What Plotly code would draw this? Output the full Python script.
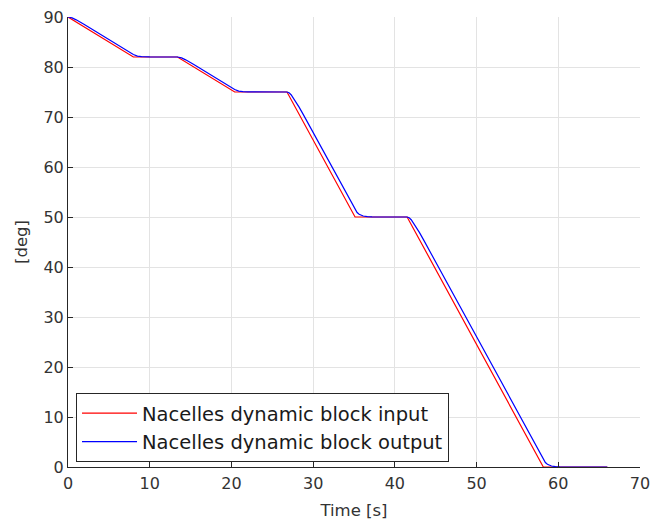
import plotly.graph_objects as go

# Input (red)
t_in = [0, 8, 13.4, 20.4, 26.8, 35.13, 41.5, 58.17, 66]
y_in = [90, 82, 82, 75, 75, 50, 50, 0, 0]

# Output (blue), lagged/smoothed response
t_out = [0, 0.25, 0.5, 1, 1.5, 2, 8, 8.25, 8.5, 9, 9.5, 10, 13.4, 13.65, 13.9, 14.4, 14.9, 15.4,
         20.4, 20.65, 20.9, 21.4, 22, 26.8, 27.05, 27.3, 27.8, 28.3, 28.8, 35.13, 35.38, 35.63,
         36.13, 36.63, 37.2, 41.5, 41.75, 42, 42.5, 43, 43.5, 58.17, 58.42, 58.67, 59.17, 59.67,
         60.2, 66]
y_out = [90, 89.95, 89.82, 89.43, 88.98, 88.49, 82.5, 82.3, 82.18, 82.07, 82.02, 82.01, 82, 81.95,
         81.82, 81.43, 80.97, 80.49, 75.5, 75.3, 75.18, 75.07, 75.02, 75, 74.84, 74.45, 73.3, 71.93,
         70.47, 51.5, 50.9, 50.55, 50.2, 50.07, 50.02, 50, 49.84, 49.45, 48.3, 46.93, 45.47, 1.5,
         0.9, 0.55, 0.2, 0.07, 0.02, 0]

x_ticks = [0, 10, 20, 30, 40, 50, 60, 70]
y_ticks = [0, 10, 20, 30, 40, 50, 60, 70, 80, 90]

FONT = "DejaVu Sans"
TXT = "#333333"
fig = go.Figure()
fig.add_trace(go.Scatter(x=t_in, y=y_in, mode="lines", name="Nacelles dynamic block input",
                         line=dict(color="#ff0000", width=1.2)))
fig.add_trace(go.Scatter(x=t_out, y=y_out, mode="lines", name="Nacelles dynamic block output",
                         line=dict(color="#0000ff", width=1.2)))

axis_common = dict(showgrid=True, gridcolor="#e3e3e3", gridwidth=1, zeroline=False,
                   showline=True, linecolor="#262626", linewidth=1, ticks="inside",
                   ticklen=5, tickcolor="#262626", mirror=False, automargin=False,
                   ticklabeloverflow="allow",
                   tickfont=dict(family=FONT, size=16, color=TXT))

fig.update_layout(
    width=654, height=524,
    margin=dict(l=68, r=14, t=17, b=57),
    paper_bgcolor="white", plot_bgcolor="white",
    font=dict(family=FONT, color=TXT),
    xaxis=dict(range=[0, 70], tickvals=x_ticks, ticklabelstandoff=2,
               title=dict(text="Time [s]", font=dict(size=16.5, color=TXT), standoff=12),
               **axis_common),
    yaxis=dict(range=[0, 90], tickvals=y_ticks,
               title=dict(text="[deg]", font=dict(size=16.5, color=TXT), standoff=11),
               **axis_common),
    legend=dict(x=0.014, y=0.011, xanchor="left", yanchor="bottom",
                bgcolor="white", bordercolor="#262626", borderwidth=1,
                font=dict(family=FONT, size=19.5, color="#1a1a1a"),
                tracegroupgap=0, itemwidth=55),
    showlegend=True,
)

fig.write_html("out.html", config={"displayModeBar": False},
               post_script="document.body.style.margin='0';document.body.style.overflow='hidden';")
